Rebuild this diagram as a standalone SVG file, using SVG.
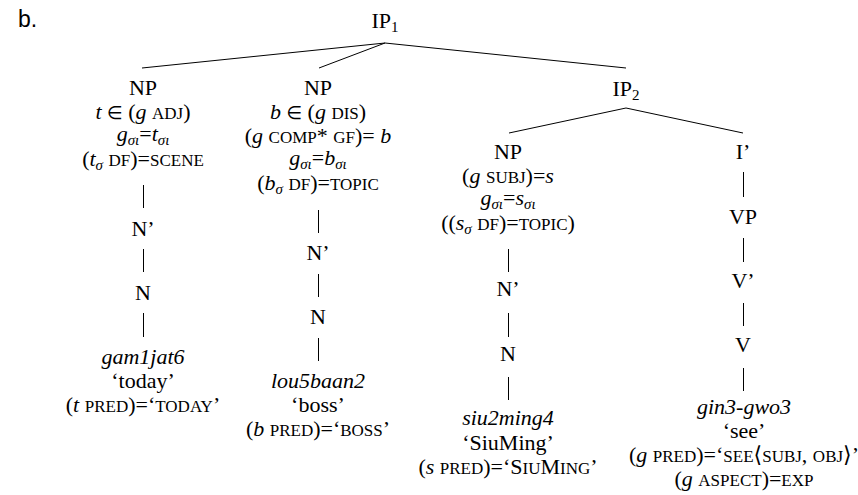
<svg xmlns="http://www.w3.org/2000/svg" width="858" height="495" viewBox="0 0 858 495">
  <style>
    .t { font-family: "Liberation Serif", "DejaVu Serif", serif; font-size: 22px; fill: #000; text-anchor: middle; }
    .sc { font-size: 17px; }
    .i { font-style: italic; }
    .sub { font-size: 15px; }
    .sym { font-family: "DejaVu Sans", sans-serif; font-size: 18px; font-weight: normal; }
    .label { font-family: "Liberation Sans", "DejaVu Sans", sans-serif; font-size: 23px; fill: #000; }
    .edge { stroke: #000; stroke-width: 1; fill: none; }
  </style>
  <rect width="858" height="495" fill="#fff"/>

  <text class="label" x="18" y="27">b.</text>

  <!-- tree edges -->
  <g id="connectors">
    <line class="edge" x1="385" y1="43" x2="142" y2="68"/>
    <line class="edge" x1="385" y1="43" x2="319" y2="68"/>
    <line class="edge" x1="385" y1="43" x2="626" y2="68"/>
    <line class="edge" x1="626" y1="108" x2="509" y2="133"/>
    <line class="edge" x1="626" y1="108" x2="743" y2="133"/>
    <!-- left NP spine -->
    <line class="edge" x1="143.5" y1="185" x2="143.5" y2="208"/>
    <line class="edge" x1="143.5" y1="249" x2="143.5" y2="272"/>
    <line class="edge" x1="143.5" y1="313" x2="143.5" y2="337"/>
    <!-- middle NP spine -->
    <line class="edge" x1="318.5" y1="210" x2="318.5" y2="233"/>
    <line class="edge" x1="318.5" y1="274" x2="318.5" y2="297"/>
    <line class="edge" x1="318.5" y1="338" x2="318.5" y2="361"/>
    <!-- subject NP spine -->
    <line class="edge" x1="508.5" y1="249" x2="508.5" y2="272"/>
    <line class="edge" x1="508.5" y1="313" x2="508.5" y2="337"/>
    <line class="edge" x1="508.5" y1="377" x2="508.5" y2="400"/>
    <!-- I' spine -->
    <line class="edge" x1="743.5" y1="172" x2="743.5" y2="197"/>
    <line class="edge" x1="743.5" y1="238" x2="743.5" y2="262"/>
    <line class="edge" x1="743.5" y1="303" x2="743.5" y2="326"/>
    <line class="edge" x1="743.5" y1="368" x2="743.5" y2="391"/>
  </g>

  <g id="ip1">
    <text class="t" x="385" y="28">IP<tspan class="sub" dy="4">1</tspan></text>
  </g>

  <g id="np-t">
    <text class="t" x="143" y="95">NP</text>
    <text class="t" x="143" y="119"><tspan class="i">t</tspan> <tspan class="sym">∈</tspan> (<tspan class="i">g</tspan> <tspan class="sc">ADJ</tspan>)</text>
    <text class="t" x="143" y="141"><tspan class="i">g</tspan><tspan class="sub i" dy="4">σι</tspan><tspan dy="-4">=</tspan><tspan class="i">t</tspan><tspan class="sub i" dy="4">σι</tspan></text>
    <text class="t" x="143" y="166">(<tspan class="i">t</tspan><tspan class="sub i" dy="4">σ</tspan><tspan dy="-4"> </tspan><tspan class="sc">DF</tspan>)=<tspan class="sc">SCENE</tspan></text>
  </g>
  <g id="nbar-t"><text class="t" x="143" y="236">N’</text></g>
  <g id="n-t"><text class="t" x="143" y="300">N</text></g>
  <g id="word-t">
    <text class="t i" x="143" y="364">gam1jat6</text>
    <text class="t" x="143" y="388">‘today’</text>
    <text class="t" x="143" y="412">(<tspan class="i">t</tspan> <tspan class="sc">PRED</tspan>)=‘<tspan class="sc">TODAY</tspan>’</text>
  </g>

  <g id="np-b">
    <text class="t" x="318" y="95">NP</text>
    <text class="t" x="318" y="119"><tspan class="i">b</tspan> <tspan class="sym">∈</tspan> (<tspan class="i">g</tspan> <tspan class="sc">DIS</tspan>)</text>
    <text class="t" x="318" y="143">(<tspan class="i">g</tspan> <tspan class="sc">COMP</tspan>* <tspan class="sc">GF</tspan>)= <tspan class="i">b</tspan></text>
    <text class="t" x="318" y="165"><tspan class="i">g</tspan><tspan class="sub i" dy="4">σι</tspan><tspan dy="-4">=</tspan><tspan class="i">b</tspan><tspan class="sub i" dy="4">σι</tspan></text>
    <text class="t" x="318" y="190">(<tspan class="i">b</tspan><tspan class="sub i" dy="4">σ</tspan><tspan dy="-4"> </tspan><tspan class="sc">DF</tspan>)=<tspan class="sc">TOPIC</tspan></text>
  </g>
  <g id="nbar-b"><text class="t" x="318" y="260">N’</text></g>
  <g id="n-b"><text class="t" x="318" y="324">N</text></g>
  <g id="word-b">
    <text class="t i" x="318" y="388">lou5baan2</text>
    <text class="t" x="318" y="412">‘boss’</text>
    <text class="t" x="318" y="436">(<tspan class="i">b</tspan> <tspan class="sc">PRED</tspan>)=‘<tspan class="sc">BOSS</tspan>’</text>
  </g>

  <g id="ip2">
    <text class="t" x="626" y="96">IP<tspan class="sub" dy="4">2</tspan></text>
  </g>

  <g id="np-s">
    <text class="t" x="508" y="159">NP</text>
    <text class="t" x="508" y="183">(<tspan class="i">g</tspan> <tspan class="sc">SUBJ</tspan>)=<tspan class="i">s</tspan></text>
    <text class="t" x="508" y="205"><tspan class="i">g</tspan><tspan class="sub i" dy="4">σι</tspan><tspan dy="-4">=</tspan><tspan class="i">s</tspan><tspan class="sub i" dy="4">σι</tspan></text>
    <text class="t" x="508" y="230">((<tspan class="i">s</tspan><tspan class="sub i" dy="4">σ</tspan><tspan dy="-4"> </tspan><tspan class="sc">DF</tspan>)=<tspan class="sc">TOPIC</tspan>)</text>
  </g>
  <g id="nbar-s"><text class="t" x="508" y="296">N’</text></g>
  <g id="n-s"><text class="t" x="508" y="361">N</text></g>
  <g id="word-s">
    <text class="t i" x="508" y="425">siu2ming4</text>
    <text class="t" x="508" y="450">‘SiuMing’</text>
    <text class="t" x="508" y="474">(<tspan class="i">s</tspan> <tspan class="sc">PRED</tspan>)=‘S<tspan class="sc">IU</tspan>M<tspan class="sc">ING</tspan>’</text>
  </g>

  <g id="ibar"><text class="t" x="743" y="159">I’</text></g>
  <g id="vp"><text class="t" x="743" y="224">VP</text></g>
  <g id="vbar"><text class="t" x="743" y="288">V’</text></g>
  <g id="v"><text class="t" x="743" y="352">V</text></g>
  <g id="word-v">
    <text class="t i" x="744" y="414">gin3-gwo3</text>
    <text class="t" x="744" y="438">‘see’</text>
    <text class="t" x="744" y="462">(<tspan class="i">g</tspan> <tspan class="sc">PRED</tspan>)=‘<tspan class="sc">SEE</tspan>⟨<tspan class="sc">SUBJ</tspan>, <tspan class="sc">OBJ</tspan>⟩’</text>
    <text class="t" x="744" y="486">(<tspan class="i">g</tspan> <tspan class="sc">ASPECT</tspan>)=<tspan class="sc">EXP</tspan></text>
  </g>
</svg>
